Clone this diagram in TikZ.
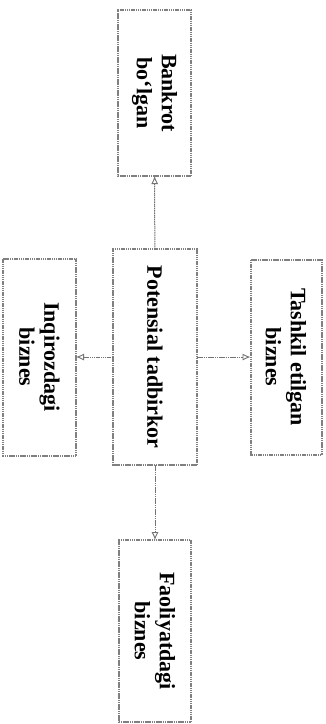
\documentclass[tikz,border=0pt]{standalone}
\usepackage{fontspec}
\setmainfont{Liberation Serif}
\usetikzlibrary{arrows.meta}
\begin{document}
\begin{tikzpicture}[x=1pt,y=-1pt,
  boxnode/.style={draw=black!50, line width=2pt, dash pattern=on 1.5pt off 0.7pt,
    rectangle, rotate=-90, inner sep=0pt, outer sep=0pt, align=center,
    font=\fontsize{22}{25}\selectfont\bfseries},
  conn/.style={draw=black!55, line width=1pt, dash pattern=on 1.5pt off 0.7pt,
    -{Latex[open,length=8pt,width=7pt,line width=0.9pt]}}]
\useasboundingbox (0,0) rectangle (326,724);
\node[boxnode, minimum width=166pt, minimum height=73pt] (t) at (154.5,93) {Bankrot\\bo‘lgan};
\node[boxnode, minimum width=216pt, minimum height=84pt] (c) at (155,357) {Potensial tadbirkor};
\node[boxnode, minimum width=197pt, minimum height=73pt] (l) at (39.5,357) {Inqirozdagi\\biznes};
\node[boxnode, minimum width=195pt, minimum height=71pt] (r) at (286,357) {Tashkil etilgan\\biznes};
\node[boxnode, minimum width=182pt, minimum height=72pt] (d) at (155,631) {Faoliyatdagi\\biznes};
\draw[conn] (c) -- (t);
\draw[conn] (c) -- (d);
\draw[conn] (c) -- (l);
\draw[conn] (c) -- (r);
\end{tikzpicture}
\end{document}
